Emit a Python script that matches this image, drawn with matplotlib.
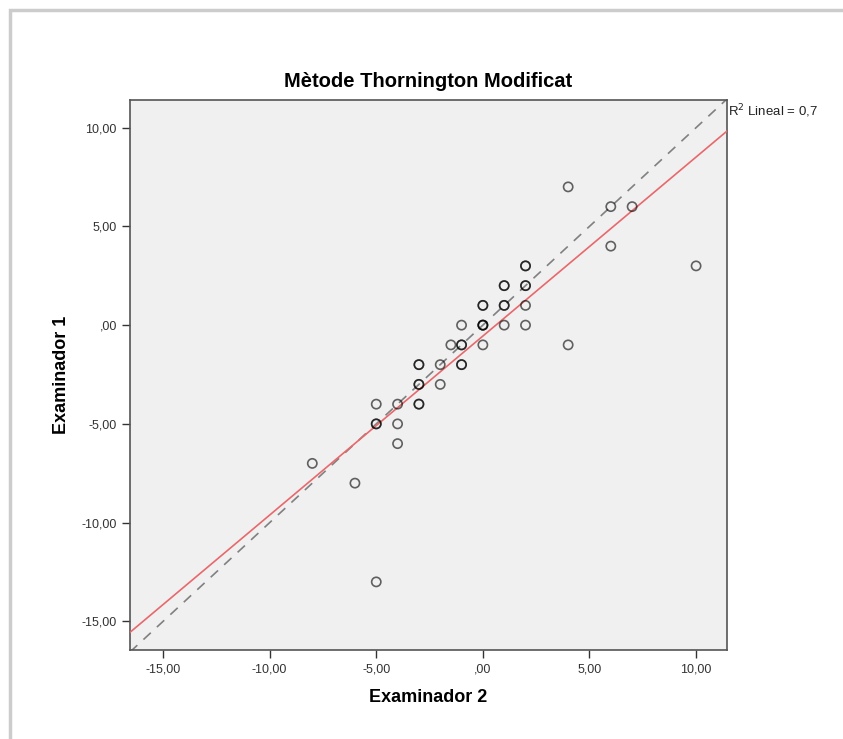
import numpy as np
import matplotlib
matplotlib.use("Agg")
import matplotlib.pyplot as plt
from matplotlib.patches import Rectangle

plt.rcParams['font.family'] = ['Liberation Sans', 'DejaVu Sans']

# Examinador 2 (x) / Examinador 1 (y), duplicates repeated
exam2 = [4, 6, 7, 6, 10,
         2, 2, 1, 1, 2, 2,
         0, 0, 1, 1, 2,
         0, 0, 0, -1, 1, 2,
         4, -1.5, -1, -1, 0,
         -3, -3, -2, -1, -1,
         -3, -3, -2,
         -5, -4, -3, -3,
         -5, -5, -4, -4,
         -8, -6, -5]
exam1 = [7, 6, 6, 4, 3,
         3, 3, 2, 2, 2, 2,
         1, 1, 1, 1, 1,
         0, 0, 0, 0, 0, 0,
         -1, -1, -1, -1, -1,
         -2, -2, -2, -2, -2,
         -3, -3, -3,
         -4, -4, -4, -4,
         -5, -5, -5, -6,
         -7, -8, -13]

ticks = [-15, -10, -5, 0, 5, 10]
tick_labels = ['-15,00', '-10,00', '-5,00', ',00', '5,00', '10,00']
xlim = (-16.55, 11.45)
ylim = (-16.45, 11.4)

x = np.array(exam2, dtype=float)
y = np.array(exam1, dtype=float)
slope, intercept = np.polyfit(x, y, 1)

fig = plt.figure(figsize=(8.43, 7.39), dpi=100)
fig.patches.append(Rectangle((0.012, -0.01), 1.0, 0.997, transform=fig.transFigure,
                             fill=False, edgecolor='#cccccc', linewidth=2.5))

ax = fig.add_axes([0.1542, 0.1204, 0.7082, 0.7443])
ax.set_facecolor('#f0f0f0')

xs = np.array(xlim)
ax.plot(xs, xs, color='#808080', linestyle=(0, (6, 5)), linewidth=1.2, zorder=2)
ax.plot(xs, slope * xs + intercept, color='#e8686c', linewidth=1.2, zorder=3)
ax.scatter(x, y, s=44, facecolors='none', edgecolors='black', linewidths=1.2,
           alpha=0.6, zorder=4)

ax.set_xlim(xlim)
ax.set_ylim(ylim)
ax.set_xticks(ticks)
ax.set_xticklabels(tick_labels)
ax.set_yticks(ticks)
ax.set_yticklabels(tick_labels)
ax.tick_params(direction='out', length=6, width=1, color='#333333',
               labelsize=9, labelcolor='#333333')
for s in ax.spines.values():
    s.set_color('#555555')
    s.set_linewidth(1.2)

ax.set_title('Mètode Thornington Modificat', fontsize=14.5, fontweight='bold', pad=9)
ax.set_xlabel('Examinador 2', fontsize=13, fontweight='bold', labelpad=10)
ax.set_ylabel('Examinador 1', fontsize=13, fontweight='bold', labelpad=8)

ax.text(1.002, 0.98, 'R$^2$ Lineal = 0,7', transform=ax.transAxes, fontsize=9.5,
        ha='left', va='center', color='#222222')

fig.savefig('out.png', dpi=100)
